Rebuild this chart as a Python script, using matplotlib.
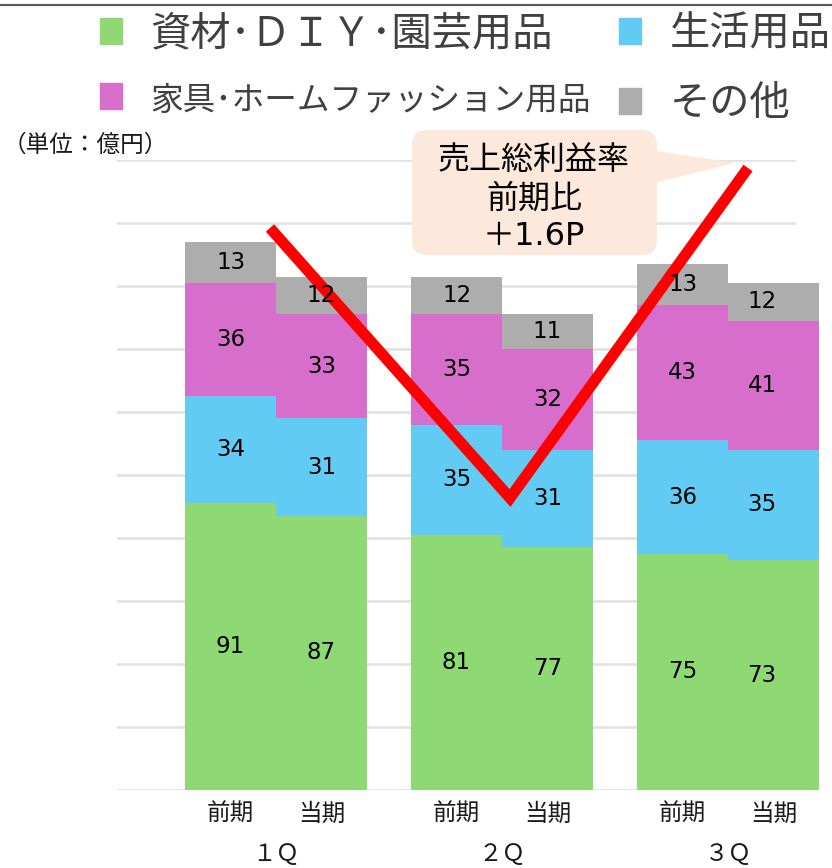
import matplotlib.pyplot as plt
from matplotlib.patches import Patch, FancyBboxPatch, Polygon
from matplotlib.lines import Line2D
import numpy as np

# Data (億円)
quarters = ['１Ｑ', '２Ｑ', '３Ｑ']
period_labels = ['前期', '当期']
series_names = ['資材･ＤＩＹ･園芸用品', '生活用品', '家具･ホームファッション用品', 'その他']
colors = ['#8ED973', '#61CBF3', '#D86ECC', '#ADADAD']

diy_prev = [91, 81, 75]
diy_cur = [87, 77, 73]
life_prev = [34, 35, 36]
life_cur = [31, 31, 35]
furn_prev = [36, 35, 43]
furn_cur = [33, 32, 41]
other_prev = [13, 12, 13]
other_cur = [12, 11, 12]

callout_lines = ['売上総利益率', '前期比', '＋1.6P']
unit_text = '（単位：億円）'

plt.rcParams['font.family'] = ['Noto Sans CJK JP', 'DejaVu Sans']

W, H = 832, 868
fig = plt.figure(figsize=(W / 100, H / 100), dpi=100)


def fx(x):
    return x / W


def fy(y):
    return 1 - y / H


ax = fig.add_axes([fx(117), fy(790), fx(796) - fx(117), fy(160) - fy(790)])

# ------------------------------
# stacked bars
# ------------------------------
groups = np.arange(len(quarters))
off = 0.2013
bw = 0.40
prev = [diy_prev, life_prev, furn_prev, other_prev]
cur = [diy_cur, life_cur, furn_cur, other_cur]

for xpos, data in [(groups - off, prev), (groups + off, cur)]:
    bottom = np.zeros(len(groups))
    for vals, c in zip(data, colors):
        bars = ax.bar(xpos, vals, bw, bottom=bottom, color=c, clip_on=False, zorder=1)
        ax.bar_label(bars, labels=[str(v) for v in vals], label_type='center',
                     fontsize=16.5, color='black', family=['DejaVu Sans'])
        bottom += np.array(vals)

ax.set_xlim((117 - 276) / 226, (796 - 276) / 226)
ax.set_ylim(0, 200)
ax.set_yticks(np.arange(0, 201, 20))
ax.yaxis.grid(True, color='#E3E3E3', lw=2)
ax.set_axisbelow(True)
ax.tick_params(axis='y', left=False, labelleft=False)
for s in ax.spines.values():
    s.set_visible(False)

xt = np.concatenate([[g - off, g + off] for g in groups])
ax.set_xticks(xt, period_labels * len(quarters))
ax.tick_params(axis='x', bottom=False, pad=6, labelsize=17, labelcolor='#1a1a1a')
for g, q in zip(groups, quarters):
    ax.text(g, -0.103, q, transform=ax.get_xaxis_transform(), ha='center', va='center',
            fontsize=17, color='#1a1a1a')

# V-shaped margin line
ax.add_line(Line2D([fx(270), fx(510), fx(748)], [fy(228), fy(498), fy(168)],
                   transform=fig.transFigure, color='#FF0000', lw=8,
                   solid_capstyle='butt', solid_joinstyle='miter', clip_on=False, zorder=2.5))

# callout box
fig.add_artist(Polygon([[fx(650), fy(150)], [fx(650), fy(184)], [fx(735), fy(163)]],
                       closed=True, facecolor='#FCE9DC', edgecolor='none', zorder=5))
fig.add_artist(FancyBboxPatch((fx(412), fy(255)), fx(657) - fx(412), fy(130) - fy(255),
                              boxstyle='round,pad=0,rounding_size=0.018', mutation_aspect=W / H,
                              facecolor='#FCE9DC', edgecolor='none', zorder=5))
for line, ypx in zip(callout_lines, [169, 208, 245]):
    fig.text(fx(534), fy(ypx), line, ha='center', va='baseline', fontsize=23,
             color='black', family=['DejaVu Sans', 'Noto Sans CJK JP'], zorder=6)

fig.text(fx(3), fy(145), unit_text, ha='left', va='center', fontsize=17, color='#1a1a1a')

# top border
fig.add_artist(Line2D([0, 1], [fy(5), fy(5)], transform=fig.transFigure, color='#595959', lw=1.5))

# legend
handles = [Patch(color=c) for c in colors]
order = [0, 2, 1, 3]
leg = fig.legend([handles[i] for i in order], [series_names[i] for i in order],
                 ncol=2, loc='upper left', bbox_to_anchor=(fx(100), fy(13)),
                 frameon=False, fontsize=29, handlelength=0.55, handleheight=0.6,
                 handletextpad=0.7, columnspacing=0.7, labelspacing=0.72,
                 borderpad=0, borderaxespad=0)
for t in leg.get_texts():
    t.set_color('#404040')
leg.get_texts()[1].set_fontsize(23.5)

fig.savefig('out.png', dpi=100)
